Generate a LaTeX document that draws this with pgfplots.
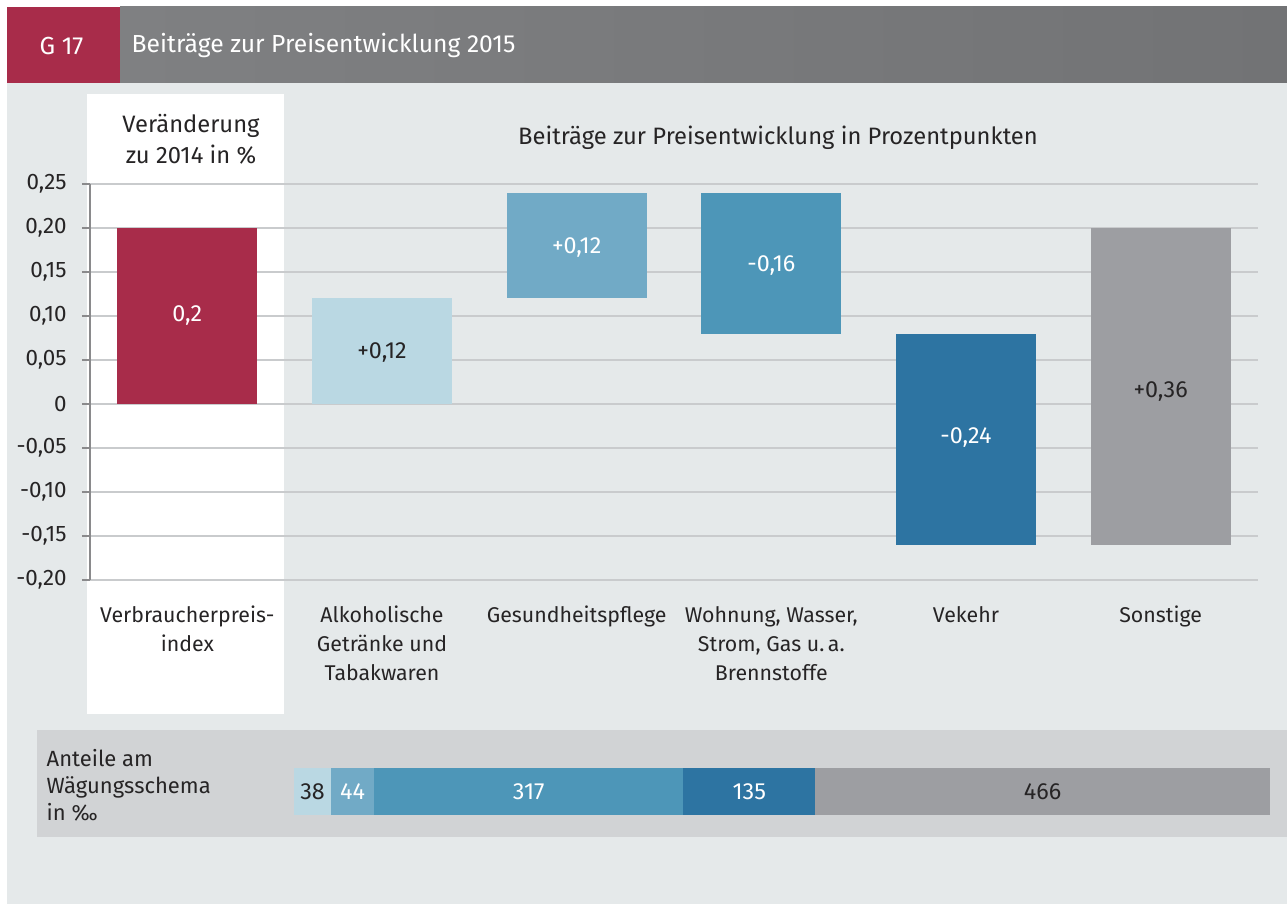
\documentclass[border=0pt]{standalone}
\usepackage{fontspec}
\setmainfont{Fira Sans}
\usepackage{pgfplots}
\pgfplotsset{compat=1.18}
\usepackage{pgfplotstable}

\definecolor{bg}{HTML}{E5E9EA}
\definecolor{vred}{HTML}{A82C4A}
\definecolor{c1}{HTML}{BAD8E3}
\definecolor{c2}{HTML}{71AAC6}
\definecolor{c3}{HTML}{4D96B8}
\definecolor{c4}{HTML}{2D74A2}
\definecolor{c5}{HTML}{9D9EA2}
\definecolor{hdr}{HTML}{7F8082}
\definecolor{hdr2}{HTML}{727375}
\definecolor{panel}{HTML}{D1D3D5}
\definecolor{gridc}{HTML}{C9CBCD}
\definecolor{axc}{HTML}{8A8A8C}
\definecolor{txt}{HTML}{262425}

% waterfall: invisible base + one visible segment per category
\pgfplotstableread{
x base v0 v1 v2 v3 v4 v5
0 0 0.20 0 0 0 0 0
1 0 0 0.12 0 0 0 0
2 0.12 0 0 0.12 0 0 0
3 0.08 0 0 0 0.16 0 0
4 -0.16 0 0 0 0 0.24 0
5 -0.16 0 0 0 0 0 0.36
}\wf

% weights in per mille
\pgfplotstableread{
y w1 w2 w3 w4 w5
0 38 44 317 135 466
}\wt

\begin{document}
\begin{tikzpicture}[x=0.75pt,y=0.75pt,font=\fontsize{16}{21.75}\selectfont,text=txt,
  lbl/.style={font=\fontsize{17.5}{20}\selectfont}]
\fill[white] (0,0) rectangle (1287,904);
\fill[bg] (7,0) rectangle (1287,821);
\fill[vred] (7,821) rectangle (120,897);
\shade[left color=hdr, right color=hdr2] (120,821) rectangle (1287,897);
\node[white,anchor=west,font=\fontsize{18.5}{22}\selectfont] at (35,858) {G 17};
\node[white,anchor=west,font=\fontsize{18.5}{22}\selectfont] at (127,858) {Beiträge zur Preisentwicklung 2015};
\fill[white] (87,190) rectangle (284,810);
\node[align=center,font=\fontsize{17.8}{23}\selectfont] at (191,765) {Veränderung\\zu 2014 in \%};
\node[font=\fontsize{17.8}{23}\selectfont] at (778,766) {Beiträge zur Preisentwicklung in Prozentpunkten};
\fill[panel] (37,67) rectangle (1287,174);
\node[anchor=west,align=left,font=\fontsize{16.5}{20.25}\selectfont] at (42,119) {Anteile am\\Wägungsschema\\in ‰};
\coordinate (A) at (90,324);
\coordinate (B) at (294,89);

\begin{axis}[
  at={(A)}, anchor=south west, scale only axis,
  width=876pt, height=297pt,
  xmin=-0.5, xmax=5.5, ymin=-0.2, ymax=0.25,
  ybar stacked, stack negative=on previous, bar width=0.72,
  axis lines*=left,
  x axis line style={draw=none},
  y axis line style={axc,line width=1.1pt},
  xtick={0,1,2,3,4,5},
  xticklabels={{Verbraucherpreis-\\index},{Alkoholische\\Getränke und\\Tabakwaren},{Gesundheitspflege},{Wohnung, Wasser,\\Strom, Gas u.\,a.\\Brennstoffe},{Vekehr},{Sonstige}},
  xtick style={draw=none},
  xticklabel style={align=center,anchor=north,yshift=-10pt,text=txt},
  ytick={-0.2,-0.15,-0.1,-0.05,0,0.05,0.1,0.15,0.2,0.25},
  yticklabels={{-0,20},{-0,15},{-0,10},{-0,05},0,{0,05},{0,10},{0,15},{0,20},{0,25}},
  yticklabel style={xshift=-8pt,text=txt,font=\fontsize{16.8}{20}\selectfont},
  tick align=outside, major tick length=6pt,
  ytick style={axc,line width=0.8pt},
  ymajorgrids, grid style={gridc,line width=0.9pt},
  /pgf/number format/assume math mode=true,
]
\addplot[draw=none,fill=none] table[x=x,y=base]{\wf};
\addplot[draw=none,fill=vred] table[x=x,y=v0]{\wf};
\addplot[draw=none,fill=c1] table[x=x,y=v1]{\wf};
\addplot[draw=none,fill=c2] table[x=x,y=v2]{\wf};
\addplot[draw=none,fill=c3] table[x=x,y=v3]{\wf};
\addplot[draw=none,fill=c4] table[x=x,y=v4]{\wf};
\addplot[draw=none,fill=c5] table[x=x,y=v5]{\wf};
\coordinate (L0) at (axis cs:0,0.1);
\coordinate (L1) at (axis cs:1,0.058);
\coordinate (L2) at (axis cs:2,0.178);
\coordinate (L3) at (axis cs:3,0.157);
\coordinate (L4) at (axis cs:4,-0.038);
\coordinate (L5) at (axis cs:5,0.014);
\end{axis}
\node[lbl,white] at (L0) {0,2};
\node[lbl,text=txt] at (L1) {+0,12};
\node[lbl,white] at (L2) {+0,12};
\node[lbl,white] at (L3) {-0,16};
\node[lbl,white] at (L4) {-0,24};
\node[lbl,text=txt] at (L5) {+0,36};

\begin{axis}[
  at={(B)}, anchor=south west, scale only axis,
  width=732pt, height=35.25pt,
  xmin=0, xmax=1000, ymin=-0.5, ymax=0.5,
  xbar stacked, bar width=35.25pt,
  hide axis,
]
\addplot[draw=none,fill=c1] table[x=w1,y=y]{\wt};
\addplot[draw=none,fill=c2] table[x=w2,y=y]{\wt};
\addplot[draw=none,fill=c3] table[x=w3,y=y]{\wt};
\addplot[draw=none,fill=c4] table[x=w4,y=y]{\wt};
\addplot[draw=none,fill=c5] table[x=w5,y=y]{\wt};
\coordinate (W1) at (axis cs:19,0);
\coordinate (W2) at (axis cs:60,0);
\coordinate (W3) at (axis cs:240.5,0);
\coordinate (W4) at (axis cs:466.5,0);
\coordinate (W5) at (axis cs:767,0);
\end{axis}
\node[lbl,text=txt] at (W1) {38};
\node[lbl,white] at (W2) {44};
\node[lbl,white] at (W3) {317};
\node[lbl,white] at (W4) {135};
\node[lbl,text=txt] at (W5) {466};
\end{tikzpicture}
\end{document}
